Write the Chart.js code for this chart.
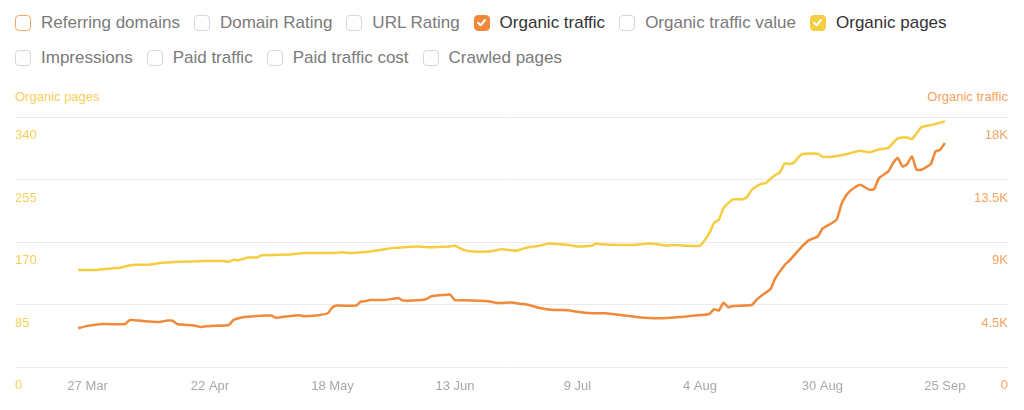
<!DOCTYPE html>
<html>
<head>
<meta charset="utf-8">
<script src="https://cdn.jsdelivr.net/npm/chart.js@4"></script>
<style>
  body { margin: 0; background: #fff; font-family: "Liberation Sans", Arial, sans-serif; }
  #wrap { position: relative; width: 1024px; height: 410px; overflow: hidden; }
  .row { position: absolute; left: 15px; height: 20px; display: flex; align-items: center; white-space: nowrap; }
  .item { display: flex; align-items: center; margin-right: 14px; font-size: 17px; color: #7a7a7a; }
  .box { box-sizing: border-box; width: 16px; height: 16px; border: 1.5px solid #d6d6d6; border-radius: 4px; margin-right: 10px; display: inline-flex; }
  .item.on { color: #333; }
  .axis-title { position: absolute; top: 89px; font-size: 13px; line-height: 16px; }
  canvas { position: absolute; left: 0; top: 80px; }
</style>
</head>
<body>
<div id="wrap">
  <div class="row" id="row1" style="top:13px"></div>
  <div class="row" id="row2" style="top:48px"></div>
  <div class="axis-title" style="left:15px;color:#f7cf5a">Organic pages</div>
  <div class="axis-title" style="right:16px;color:#f5a25d">Organic traffic</div>
  <canvas id="chart" width="1024" height="330"></canvas>
</div>
<script>
// legend checkboxes
const legendRow1 = ["Referring domains", "Domain Rating", "URL Rating", "Organic traffic", "Organic traffic value", "Organic pages"];
const legendRow2 = ["Impressions", "Paid traffic", "Paid traffic cost", "Crawled pages"];

// x axis: day 0 = 25 Mar
const tickDays = [2, 28, 54, 80, 106, 132, 158, 184];
const tickLabels = ["27 Mar", "22 Apr", "18 May", "13 Jun", "9 Jul", "4 Aug", "30 Aug", "25 Sep"];

const pagesTicks = [0, 85, 170, 255, 340];
const trafficTicks = [0, 4500, 9000, 13500, 18000];

// Organic pages (left axis)
const pagesDays = [0, 4, 5, 9, 10, 12, 15, 17, 22, 27, 31, 32, 33, 34, 36, 38, 39, 45, 48, 54, 56, 58, 60, 62, 65, 67, 69, 72, 74,
  79, 80, 82, 84, 87, 88, 90, 93, 95, 98, 100, 102, 104, 106, 109, 110, 111, 115, 118, 121, 123, 125, 126, 129, 132,
  134, 135, 136, 137, 139, 141, 142, 143, 145, 146, 147, 148, 149, 150, 151, 152, 153, 154, 157, 158, 160, 162, 164,
  166, 168, 170, 172, 174, 176, 177, 178, 179, 181, 184];
const pagesValues = [132, 132, 133, 135, 137, 139, 139, 141, 143, 144, 144, 143, 146, 145, 149, 149, 152, 153, 155, 155, 156, 155, 156, 157, 160, 162, 163, 164, 163,
  164, 165, 159, 157, 157, 158, 160, 158, 162, 165, 168, 167, 166, 164, 165, 168, 167, 166, 166, 168, 167, 165, 166, 165, 165,
  182, 196, 200, 216, 228, 228, 231, 241, 249, 250, 256, 261, 265, 277, 276, 278, 286, 290, 290, 286, 286, 288, 291,
  294, 292, 296, 298, 311, 312, 310, 318, 326, 329, 334];

// Organic traffic (right axis)
const trafficDays = [0, 2, 5, 7, 10, 11, 13, 17, 19, 20, 21, 23, 25, 26, 28, 32, 33, 35, 36, 38, 41, 42, 45, 47, 48, 51, 53, 54, 55,
  59, 60, 61, 62, 65, 67, 68, 69, 73, 74, 75, 78, 79, 80, 82, 87, 89, 92, 94, 95, 98, 101, 104, 106, 108, 111, 112, 115,
  119, 121, 124, 127, 129, 131, 134, 135, 136, 137, 138, 139, 143, 144, 145, 147, 148, 150, 151, 153, 155, 157, 158,
  161, 162, 163, 164, 166, 168, 169, 170, 172, 173, 174, 175, 176, 177, 178, 179, 181, 182, 183, 184];
const trafficValues = [2790, 2960, 3100, 3080, 3100, 3390, 3340, 3240, 3340, 3340, 3100, 3030, 2960, 2880, 2960, 3030, 3390, 3580, 3620, 3680, 3700, 3550, 3680, 3730, 3660, 3730, 3870, 4300, 4420,
  4420, 4710, 4740, 4830, 4830, 4920, 4970, 4780, 4830, 4900, 5100, 5190, 5210, 4810, 4810, 4740, 4610, 4640, 4540, 4520, 4250, 4110, 4090, 3970, 3890, 3870, 3870, 3750,
  3580, 3530, 3510, 3580, 3630, 3700, 3820, 4160, 4060, 4640, 4300, 4400, 4470, 4830, 5120, 5620, 6390, 7350, 7660, 8440, 9100, 9390, 9950,
  10600, 11680, 12330, 12710, 13120, 12760, 12810, 13600, 14080, 14690, 15050, 14440, 14610, 15160, 14200, 14200, 14610, 15520, 15640, 16130];

function addLegend(rowId, names) {
  const row = document.getElementById(rowId);
  names.forEach(name => {
    const item = document.createElement("div");
    item.className = "item";
    const box = document.createElement("span");
    box.className = "box";
    if (name === "Organic traffic" || name === "Organic pages") {
      item.classList.add("on");
      const col = name === "Organic traffic" ? "#f0893a" : "#f5cd40";
      box.style.background = col;
      box.style.borderColor = col;
      box.innerHTML = '<svg width="13" height="13" viewBox="0 0 13 13"><polyline points="3,6.8 5.6,9.3 10,4" fill="none" stroke="#fff" stroke-width="2" stroke-linecap="round" stroke-linejoin="round"/></svg>';
    } else if (name === "Referring domains") {
      box.style.borderColor = "#f5a866";
    }
    item.appendChild(box);
    item.appendChild(document.createTextNode(name));
    row.appendChild(item);
  });
}
addLegend("row1", legendRow1);
addLegend("row2", legendRow2);

const toPoints = (days, vals) => days.map((d, i) => ({ x: d, y: vals[i] }));
const tickFont = { family: "'Liberation Sans', Arial, sans-serif", size: 13 };

new Chart(document.getElementById("chart"), {
  type: "line",
  data: {
    datasets: [
      {
        label: "Organic traffic",
        data: toPoints(trafficDays, trafficValues),
        yAxisID: "yTraffic",
        borderColor: "#f0893a",
        borderWidth: 2.5,
        pointRadius: 0,
        tension: 0.15
      },
      {
        label: "Organic pages",
        data: toPoints(pagesDays, pagesValues),
        yAxisID: "yPages",
        borderColor: "#f5cd40",
        borderWidth: 2.5,
        pointRadius: 0,
        tension: 0.15
      }
    ]
  },
  options: {
    responsive: false,
    animation: false,
    layout: { padding: { left: 15, right: 16, top: 37, bottom: 3.4 } },
    plugins: { legend: { display: false }, tooltip: { enabled: false } },
    scales: {
      x: {
        type: "linear",
        min: -13.4,
        max: 197.4,
        grid: { display: false, drawTicks: false },
        border: { display: false },
        afterBuildTicks: scale => { scale.ticks = tickDays.map(v => ({ value: v })); },
        ticks: {
          autoSkip: false,
          maxRotation: 0,
          padding: 12,
          color: "#a8a8a8",
          font: tickFont,
          callback: v => tickLabels[tickDays.indexOf(v)]
        }
      },
      yPages: {
        position: "left",
        min: 0,
        max: 340,
        grid: { color: "#ececec", lineWidth: 1, drawTicks: false },
        border: { display: false },
        afterBuildTicks: scale => { scale.ticks = pagesTicks.map(v => ({ value: v })); },
        ticks: { mirror: true, padding: 0, labelOffset: 18.5, color: "#f7cf5a", font: tickFont }
      },
      yTraffic: {
        position: "right",
        min: 0,
        max: 18000,
        grid: { display: false, drawTicks: false },
        border: { display: false },
        afterBuildTicks: scale => { scale.ticks = trafficTicks.map(v => ({ value: v })); },
        ticks: {
          mirror: true, padding: 0, labelOffset: 18.5, color: "#f5a25d", font: tickFont,
          callback: v => v === 0 ? "0" : (v / 1000) + "K"
        }
      }
    }
  }
});
</script>
</body>
</html>
